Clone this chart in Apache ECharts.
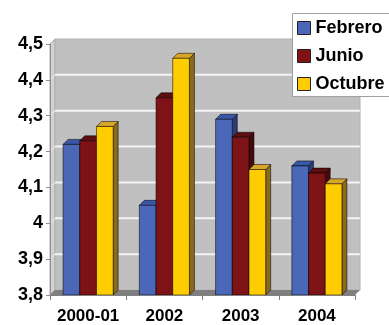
<!DOCTYPE html>
<html>
<head>
<meta charset="utf-8">
<script src="https://cdn.jsdelivr.net/npm/echarts@6/dist/echarts.min.js"></script>
<style>
  html, body { margin: 0; padding: 0; background: #fff; }
  #chart { width: 389px; height: 325px; }
</style>
</head>
<body>
<div id="chart"></div>
<script>
// Categories and values per survey month
const categories = ['2000-01', '2002', '2003', '2004'];
const febrero = [4.22, 4.05, 4.29, 4.16];
const junio = [4.23, 4.35, 4.24, 4.14];
const octubre = [4.27, 4.46, 4.15, 4.11];
const yTicks = [3.8, 3.9, 4.0, 4.1, 4.2, 4.3, 4.4, 4.5];
const yMin = 3.8;
const yMax = 4.5;

// Face colours: front, side, top
const palette = [
  { name: 'Febrero', front: '#4a67b8', side: '#2b3d78', top: '#3b58a8' },
  { name: 'Junio',   front: '#7d1316', side: '#470a0c', top: '#5c0e10' },
  { name: 'Octubre', front: '#ffcc00', side: '#8a6a1e', top: '#d6a52a' }
];
const seriesValues = [febrero, junio, octubre];

const DEPTH = 5;      // 3D wall offset
const BAR_DEPTH = 5;  // 3D bar offset
const BAR_FRAC = 0.219;

const chart = echarts.init(document.getElementById('chart'), null, { renderer: 'canvas' });

// Walls, floor and gridlines behind the columns
function renderWalls(params, api) {
  const bw = api.size([1, 0])[0];
  const first = api.coord([0, yMin]);
  const last = api.coord([categories.length - 1, yMin]);
  const x0 = first[0] - bw / 2;
  const x1 = last[0] + bw / 2;
  const yBot = first[1];
  const yTop = api.coord([0, yMax])[1];
  const d = DEPTH;
  const children = [
    { type: 'polygon', shape: { points: [[x0, yTop], [x0 + d, yTop - d], [x0 + d, yBot - d], [x0, yBot]] },
      style: { fill: '#d2d2d2', stroke: '#a8a8a8', lineWidth: 1 } },
    { type: 'rect', shape: { x: x0 + d, y: yTop - d, width: x1 - x0, height: yBot - yTop },
      style: { fill: '#c0c0c0', stroke: '#b0b0b0', lineWidth: 1 } },
    { type: 'polygon', shape: { points: [[x0, yBot], [x0 + d, yBot - d], [x1 + d, yBot - d], [x1, yBot]] },
      style: { fill: '#7f7f7f' } }
  ];
  yTicks.forEach(function (t) {
    if (t <= yMin || t >= yMax) return;
    const y = api.coord([0, t])[1];
    children.push({ type: 'line', shape: { x1: x0 + d, y1: y - d, x2: x1 + d, y2: y - d },
      style: { stroke: '#f4f4f4', lineWidth: 2 } });
    children.push({ type: 'line', shape: { x1: x0, y1: y, x2: x0 + d, y2: y - d },
      style: { stroke: '#f4f4f4', lineWidth: 1 } });
  });
  return { type: 'group', children: children };
}

function makeBarRenderer(idx) {
  const col = palette[idx];
  return function (params, api) {
    const bw = api.size([1, 0])[0];
    const w = bw * BAR_FRAC;
    const topPt = api.coord([api.value(0), api.value(1)]);
    const basePt = api.coord([api.value(0), yMin]);
    const x = topPt[0] - 1.5 * w + idx * w;
    const yt = topPt[1];
    const yb = basePt[1];
    const d = BAR_DEPTH;
    const edge = 'rgba(0,0,0,0.75)';
    return {
      type: 'group',
      children: [
        { type: 'polygon', shape: { points: [[x + w, yt], [x + w + d, yt - d], [x + w + d, yb - d], [x + w, yb]] },
          style: { fill: col.side, stroke: edge, lineWidth: 0.7 } },
        { type: 'polygon', shape: { points: [[x, yt], [x + d, yt - d], [x + w + d, yt - d], [x + w, yt]] },
          style: { fill: col.top, stroke: edge, lineWidth: 0.7 } },
        { type: 'rect', shape: { x: x, y: yt, width: w, height: yb - yt },
          style: { fill: col.front, stroke: edge, lineWidth: 0.7 } }
      ]
    };
  };
}

const barSeries = palette.map(function (col, i) {
  return {
    name: col.name,
    type: 'custom',
    z: 3,
    itemStyle: { color: col.front },
    renderItem: makeBarRenderer(i),
    encode: { x: 0, y: 1 },
    data: seriesValues[i].map(function (v, c) { return [c, v]; })
  };
});

const fontFam = '"Liberation Sans", Arial, sans-serif';

chart.setOption({
  animation: false,
  grid: { left: 50, right: 34, top: 44, bottom: 30 },
  // Legend panel, running off the right edge of the canvas
  graphic: [{
    type: 'rect',
    left: 292,
    top: 13,
    z: 5,
    shape: { width: 140, height: 83 },
    style: { fill: '#ffffff', stroke: '#a0a0a0', lineWidth: 1 }
  }],
  legend: {
    orient: 'vertical',
    left: 292,
    top: 13,
    z: 6,
    icon: 'rect',
    itemWidth: 13,
    itemHeight: 13,
    itemGap: 10,
    padding: [6, 4, 4, 5],
    textStyle: { fontFamily: fontFam, fontWeight: 'bold', fontSize: 18, color: '#000', lineHeight: 18 },
    data: palette.map(function (c) {
      return { name: c.name, itemStyle: { color: c.front, borderColor: '#222', borderWidth: 1 } };
    })
  },
  xAxis: {
    type: 'category',
    data: categories,
    boundaryGap: true,
    z: 4,
    axisLine: { show: true, lineStyle: { color: '#808080', width: 1 } },
    axisTick: { show: true, length: 5, lineStyle: { color: '#808080' } },
    axisLabel: { interval: 0, fontFamily: fontFam, fontWeight: 'bold', fontSize: 17, color: '#000', margin: 13 },
    splitLine: { show: false }
  },
  yAxis: {
    type: 'value',
    min: yMin,
    max: yMax,
    interval: 0.1,
    z: 4,
    axisLine: { show: true, lineStyle: { color: '#909090', width: 1 } },
    axisTick: { show: true, length: 4, lineStyle: { color: '#909090' } },
    axisLabel: {
      fontFamily: fontFam, fontWeight: 'bold', fontSize: 18, color: '#000', margin: 7,
      formatter: function (v) { return String(+v.toFixed(1)).replace('.', ','); }
    },
    splitLine: { show: false }
  },
  series: [
    {
      type: 'custom',
      z: 1,
      silent: true,
      renderItem: renderWalls,
      encode: { x: 0, y: 1 },
      data: [[0, yMin]]
    }
  ].concat(barSeries)
});
</script>
</body>
</html>
